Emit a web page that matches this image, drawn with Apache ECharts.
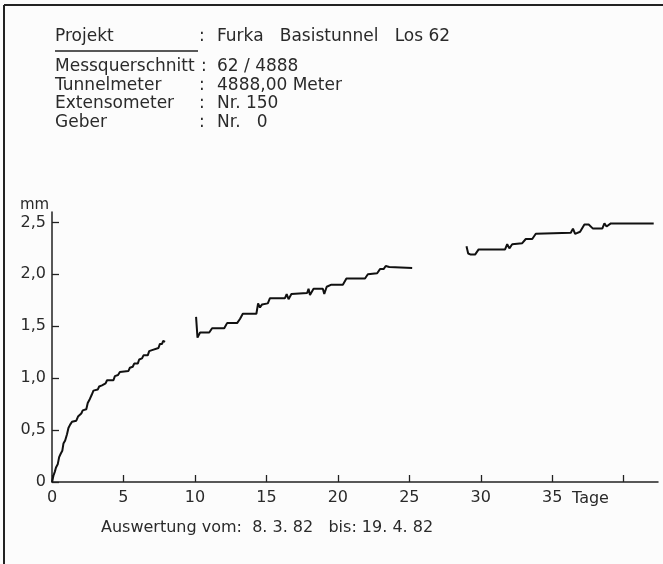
<!DOCTYPE html>
<html>
	<head>
		<meta charset="utf-8">
		<title>Extensometer</title>
		<style>
		html,body { height:100%; width:100%; margin:0; padding:0; background:#fcfcfc; }
		</style>
		<script src="https://cdn.jsdelivr.net/npm/echarts@6/dist/echarts.min.js"></script>
	</head>
	<body>
		<div id="chart" style="height:564px;width:663px;"></div>
		<script type="text/javascript">
			// Messwerte, drei Abschnitte (Tage, mm)
			var seg1Days = [0,0.1,0.2,0.28,0.4,0.5,0.6,0.72,0.8,0.92,1.05,1.15,1.26,1.4,1.7,1.82,2.05,2.15,2.4,2.5,2.65,2.78,2.9,3.2,3.3,3.5,3.75,3.85,4.3,4.4,4.62,4.75,5.35,5.45,5.65,5.75,6.0,6.1,6.3,6.4,6.7,6.8,7.0,7.1,7.45,7.55,7.7,7.78,7.91];
			var seg1Mm   = [0,0.06,0.1,0.14,0.17,0.24,0.27,0.3,0.37,0.4,0.46,0.52,0.55,0.58,0.59,0.63,0.66,0.69,0.7,0.76,0.8,0.84,0.88,0.89,0.92,0.93,0.95,0.98,0.98,1.02,1.03,1.06,1.07,1.1,1.11,1.14,1.14,1.18,1.19,1.22,1.22,1.26,1.27,1.28,1.29,1.33,1.33,1.36,1.35];

			var seg2Days = [10.08,10.18,10.36,11.0,11.2,12.05,12.25,12.95,13.15,13.35,14.3,14.42,14.55,14.7,15.1,15.25,16.3,16.42,16.55,16.75,17.85,17.95,18.05,18.3,18.95,19.05,19.22,19.55,20.35,20.6,21.9,22.1,22.75,22.95,23.2,23.35,23.6,25.2];
			var seg2Mm   = [1.59,1.39,1.44,1.44,1.48,1.48,1.53,1.53,1.57,1.62,1.62,1.72,1.68,1.71,1.72,1.77,1.77,1.81,1.76,1.81,1.82,1.86,1.8,1.86,1.86,1.81,1.88,1.9,1.9,1.96,1.96,2.0,2.01,2.05,2.05,2.08,2.07,2.06];

			var seg3Days = [29.0,29.12,29.3,29.6,29.85,31.7,31.85,32.0,32.2,32.9,33.15,33.6,33.85,36.3,36.45,36.6,36.95,37.25,37.55,37.85,38.5,38.65,38.8,39.1,42.1];
			var seg3Mm   = [2.27,2.2,2.19,2.19,2.24,2.24,2.29,2.25,2.29,2.3,2.34,2.34,2.39,2.4,2.44,2.39,2.41,2.48,2.48,2.44,2.44,2.49,2.46,2.49,2.49];

			var xTicks = [0,5,10,15,20,25,30,35,40];
			var xLabels = [0,5,10,15,20,25,30,35];
			var yTicks = [0,0.5,1,1.5,2,2.5];

			var headLabels = ['Messquerschnitt', 'Tunnelmeter', 'Extensometer', 'Geber'];
			var headValues = ['62 / 4888', '4888,00 Meter', 'Nr. 150', 'Nr.   0'];

			function zip(a, b) {
				var out = [];
				for (var i = 0; i < a.length; i++) out.push([a[i], b[i]]);
				return out;
			}

			var font = 'DejaVu Sans';
			var ink = '#2a2a2a';

			function txt(x, y, s, size) {
				return {
					type: 'text', x: x, y: y, silent: true,
					style: { text: s, font: (size || 17) + 'px "' + font + '"', fill: ink, verticalAlign: 'middle' }
				};
			}

			var graphics = [
				{ type: 'line', shape: { x1: 4, y1: 5, x2: 663, y2: 5 }, style: { stroke: '#222', lineWidth: 2 } },
				{ type: 'line', shape: { x1: 4, y1: 5, x2: 4, y2: 564 }, style: { stroke: '#222', lineWidth: 2 } },
				txt(55, 37, 'Projekt'),
				txt(199, 37, ':'),
				txt(217, 37, 'Furka   Basistunnel   Los 62'),
				{ type: 'line', shape: { x1: 55, y1: 51, x2: 198, y2: 51 }, style: { stroke: '#222', lineWidth: 1.3 } },
				txt(20, 205, 'mm', 15),
				txt(572, 499, 'Tage', 16),
				txt(101, 528, 'Auswertung vom:  8. 3. 82   bis: 19. 4. 82', 16)
			];
			var rowY = [67, 85.5, 104, 122.5];
			for (var i = 0; i < headLabels.length; i++) {
				graphics.push(txt(55, rowY[i], headLabels[i]));
				graphics.push(txt(i === 0 ? 201 : 199, rowY[i], ':'));
				graphics.push(txt(217, rowY[i], headValues[i]));
			}

			function lineSeries(data) {
				return {
					type: 'line',
					data: data,
					showSymbol: false,
					lineStyle: { color: '#111', width: 2 },
					animation: false
				};
			}

			var myChart = echarts.init(document.getElementById('chart'), null, { renderer: 'canvas' });
			var option = {
				backgroundColor: '#fcfcfc',
				animation: false,
				grid: { left: 52, right: 5, top: 212, bottom: 82, containLabel: false },
				xAxis: {
					type: 'value',
					min: 0,
					max: 42.4,
					interval: 5,
					splitLine: { show: false },
					axisLine: { lineStyle: { color: '#222', width: 1.5 } },
					axisTick: { inside: true, length: 7, customValues: xTicks, lineStyle: { color: '#222', width: 1.3 } },
					axisLabel: {
						customValues: xLabels,
						margin: 8,
						color: ink,
						fontFamily: font,
						fontSize: 16
					}
				},
				yAxis: {
					type: 'value',
					min: 0,
					max: 2.6,
					interval: 0.5,
					splitLine: { show: false },
					axisLine: { lineStyle: { color: '#222', width: 1.5 } },
					axisTick: { inside: true, length: 7, customValues: yTicks, lineStyle: { color: '#222', width: 1.3 } },
					axisLabel: {
						customValues: yTicks,
						margin: 6,
						color: ink,
						fontFamily: font,
						fontSize: 16,
						formatter: function (v) {
							if (v === 0) return '0';
							return v.toFixed(1).replace('.', ',');
						}
					}
				},
				graphic: graphics,
				series: [
					lineSeries(zip(seg1Days, seg1Mm)),
					lineSeries(zip(seg2Days, seg2Mm)),
					lineSeries(zip(seg3Days, seg3Mm))
				]
			};
			myChart.setOption(option);
		</script>
	</body>
</html>
